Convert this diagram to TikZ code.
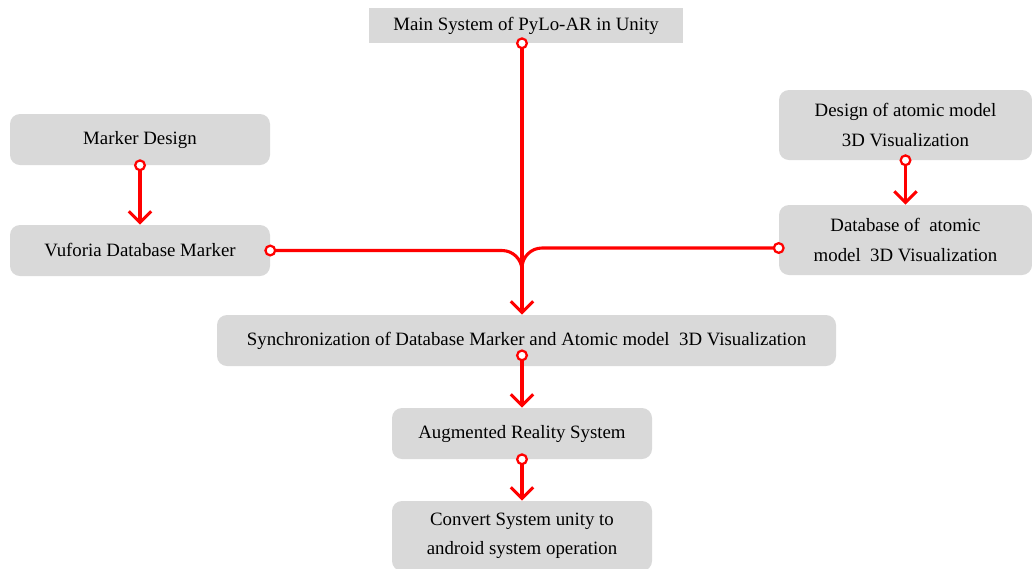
\documentclass[tikz,border=0pt]{standalone}
\usepackage{fontspec}
\setmainfont{Liberation Serif}
\usetikzlibrary{arrows.meta, positioning}

\begin{document}
\begin{tikzpicture}[x=0.025cm, y=-0.025cm,
  box/.style={fill=gray!30, rounded corners=0.25cm, align=center, inner sep=0pt,
    font=\fontsize{13.4}{21}\selectfont},
  dot/.tip={Circle[length=8.5pt, fill=white, line width=1.6pt]},
  barb/.tip={Straight Barb[length=8pt, width=16pt, line width=2.2pt]},
  branch/.style={red, line width=2.2pt, dot-, shorten <=-4.25pt},
  link/.style={branch, dot-barb}]
\def\u{0.025cm}
\useasboundingbox (0,0) rectangle (1032,568);
% boxes
\node[box, rounded corners=0pt, minimum width=314*\u, minimum height=35*\u] (main) at (526,25.5) {Main System of PyLo-AR in Unity};
\node[box, minimum width=260*\u, minimum height=51*\u] (mdesign) at (140,139.5) {Marker Design};
\node[box, minimum width=260*\u, minimum height=51*\u] (vuforia) at (140,250.5) {Vuforia Database Marker};
\node[box, minimum width=253*\u, minimum height=70*\u] (adesign) at (905.5,125) {Design of atomic model\\3D Visualization};
\node[box, minimum width=253*\u, minimum height=70*\u] (adb) at (905.5,240) {Database of\ \ atomic\\model\ \ 3D Visualization};
\node[box, minimum width=619*\u, minimum height=51*\u] (sync) at (526.5,340.5) {Synchronization of Database Marker and Atomic model\ \ 3D Visualization};
\node[box, minimum width=260*\u, minimum height=51*\u] (ar) at (522,433.5) {Augmented Reality System};
\node[box, minimum width=260*\u, minimum height=70*\u] (convert) at (522,536) {Convert System unity to\\android system operation};
% connectors
\draw[branch, rounded corners=20*\u] (vuforia.east) -| ([yshift=0.6cm]sync.north -| ar);
\draw[branch, rounded corners=20*\u] ([yshift=-0.2cm]adb.west) -| ([yshift=0.6cm]sync.north -| ar);
\draw[link] (main.south -| ar) -- (sync.north -| ar);
\draw[link] (mdesign.south) -- (vuforia.north);
\draw[link] (adesign.south) -- (adb.north);
\draw[link, shorten <=-12pt] (sync.south -| ar) -- (ar.north);
\draw[link] (ar.south) -- (convert.north);
\end{tikzpicture}
\end{document}
